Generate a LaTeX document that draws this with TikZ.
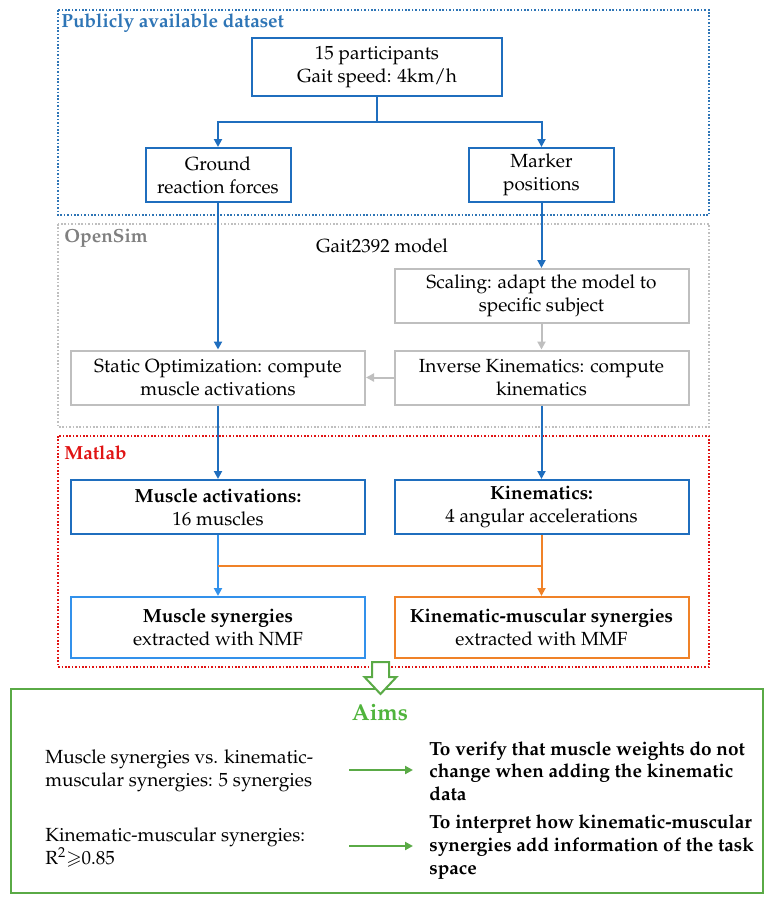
\documentclass[tikz,border=0pt]{standalone}
\usepackage[T1]{fontenc}
\usepackage{mathpazo}
\usepackage{amssymb}
\usetikzlibrary{arrows.meta}

\definecolor{dsblue}{RGB}{46,117,182}
\definecolor{boxblue}{RGB}{31,110,190}
\definecolor{lightblue}{RGB}{50,145,235}
\definecolor{boxgray}{RGB}{191,191,191}
\definecolor{labelgray}{RGB}{128,128,128}
\definecolor{mred}{RGB}{224,20,20}
\definecolor{morange}{RGB}{240,130,40}
\definecolor{mgreen}{RGB}{90,170,70}
\definecolor{aimgreen}{RGB}{80,180,60}

\begin{document}
\begin{tikzpicture}[x=0.5pt, y=-0.5pt,
    every node/.style={font=\fontsize{9.5}{11.35}\selectfont, align=center, inner sep=0pt},
    box/.style={draw, line width=1pt, minimum height=27pt},
    wide/.style={box, minimum width=147pt},
    narrow/.style={box, minimum width=72.5pt},
    link/.style={line width=1pt, -{Triangle[length=4pt,width=4pt]}},
    aimlink/.style={line width=1pt, mgreen, -{Triangle[length=4pt,width=4pt]}},
    frame/.style={line width=0.9pt, dash pattern=on 0.8pt off 0.9pt},
    label/.style={anchor=west, font=\fontsize{9.5}{11}\selectfont\bfseries}
  ]
  \useasboundingbox (0,0) rectangle (771,902);

  % frames
  \draw[frame, dsblue] (58,10) rectangle (709,215);
  \node[label, text=dsblue] (dstitle) at (61,23) {Publicly available dataset};
  \draw[frame, boxgray] (58,224) rectangle (709,427);
  \node[label, text=labelgray] (ostitle) at (64,238) {OpenSim};
  \draw[frame, mred] (58,436) rectangle (709,667);
  \node[label, text=mred] (mltitle) at (64,453) {Matlab};

  % dataset
  \node[box, draw=boxblue, minimum width=125pt, minimum height=29pt] (part) at (377,67) {15 participants\\Gait speed: 4km/h};
  \node[narrow, draw=boxblue] (grf) at (218,175) {Ground\\reaction forces};
  \node[narrow, draw=boxblue] (mark) at (541.5,175) {Marker\\positions};

  % opensim
  \node (model) at (382,246) {Gait2392 model};
  \node[wide, draw=boxgray] (scal) at (541.5,296) {Scaling: adapt the model to\\specific subject};
  \node[wide, draw=boxgray] (so) at (218,377.5) {Static Optimization: compute\\muscle activations};
  \node[wide, draw=boxgray] (ik) at (541.5,377.5) {Inverse Kinematics: compute\\kinematics};

  % matlab
  \node[wide, draw=boxblue] (ma) at (218,507) {\textbf{Muscle activations:}\\16 muscles};
  \node[wide, draw=boxblue] (kin) at (541.5,507) {\textbf{Kinematics:}\\4 angular accelerations};
  \node[wide, draw=lightblue, minimum height=30.5pt] (ms) at (218,627.5) {\textbf{Muscle synergies}\\extracted with NMF};
  \node[wide, draw=morange, minimum height=30.5pt] (kms) at (541.5,627.5) {\textbf{Kinematic-muscular synergies}\\extracted with MMF};

  % connectors
  \coordinate (split) at (377,122);
  \draw[line width=1pt, boxblue] (part) -- (split);
  \draw[link, boxblue] (split) -| (grf);
  \draw[link, boxblue] (split) -| (mark);
  \draw[link, boxblue] (grf) -- (so);
  \draw[link, boxblue] (mark) -- (scal);
  \draw[link, boxgray] (scal) -- (ik);
  \draw[link, boxgray] (ik) -- (so);
  \draw[link, boxblue] (so) -- (ma);
  \draw[link, boxblue] (ik) -- (kin);
  \draw[link, lightblue] (ma) -- (ms);
  \draw[link, morange] (kin) -- (kms);
  \coordinate (join) at (218,566);
  \draw[line width=1pt, morange] (join) -- (join -| kin.south);

  % aims
  \draw[line width=1pt, mgreen] (11,689) rectangle (763,893);
  \draw[line width=1pt, mgreen, fill=white] (372,662) -- (389,662) -- (389,677) -- (396.5,677)
    -- (380.5,694) -- (364.5,677) -- (372,677) -- cycle;
  \node[font=\fontsize{11.5}{13}\selectfont\bfseries, text=aimgreen] (aims) at (380,713) {Aims};
  \node[anchor=west, align=left] (res1) at (45,771) {Muscle synergies vs. kinematic-\\muscular synergies: 5 synergies};
  \node[anchor=west, align=left] (res2) at (45,847.5) {Kinematic-muscular synergies:\\R\textsuperscript{2}$\geqslant$0.85};
  \node[anchor=west, align=left, font=\fontsize{9.5}{11.35}\selectfont\bfseries] (aim1) at (429,771) {To verify that muscle weights do not\\change when adding the kinematic\\data};
  \node[anchor=west, align=left, font=\fontsize{9.5}{11.35}\selectfont\bfseries] (aim2) at (429,847) {To interpret how kinematic-muscular\\synergies add information of the task\\space};
  \coordinate (a1) at (349,770);
  \coordinate (a2) at (349,846);
  \draw[aimlink, shorten >=8pt] (a1) -- (a1 -| aim1.west);
  \draw[aimlink, shorten >=8pt] (a2) -- (a2 -| aim2.west);
\end{tikzpicture}
\end{document}
